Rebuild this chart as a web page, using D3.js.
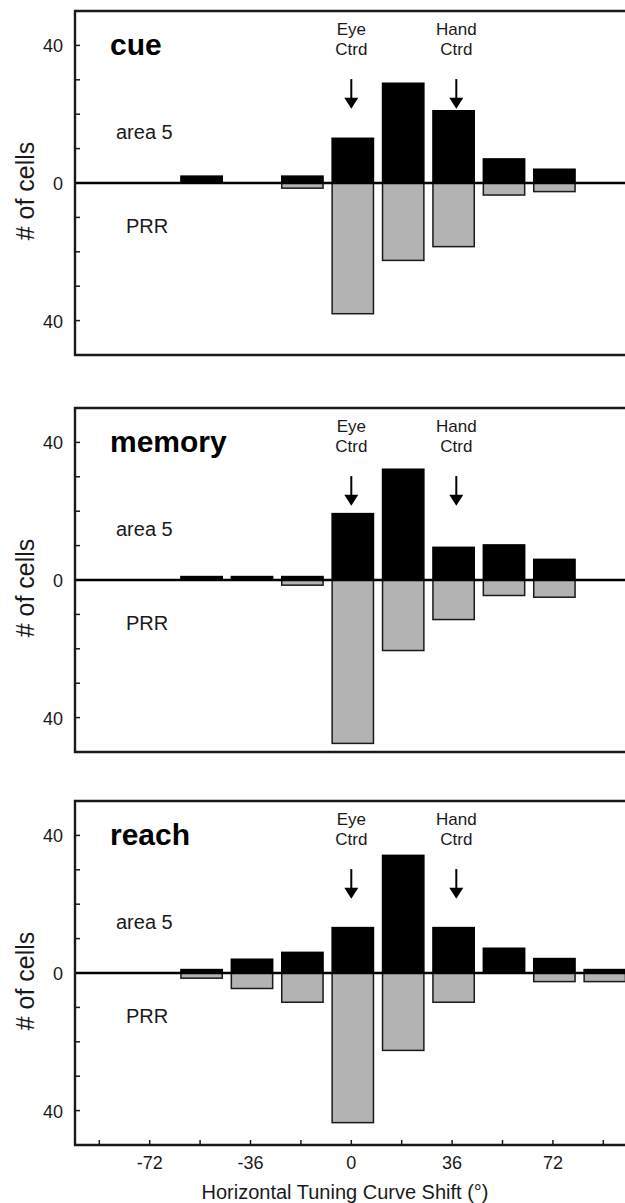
<!DOCTYPE html>
<html><head><meta charset="utf-8">
<script src="https://cdn.jsdelivr.net/npm/d3@7"></script>
<style>
body{margin:0;background:#fff}
svg{display:block;font-family:Arial,"Liberation Sans",sans-serif}
</style>
</head><body><svg id="c" width="625" height="1203"></svg>
<script>
// ---- data ----
const bins = [-54, -36, -18, 0, 18, 36, 54, 72, 90];
const panelNames = ["cue", "memory", "reach"];
const area5Cue    = [2, 0, 2, 13, 29, 21, 7, 4, 0];
const prrCue      = [0, 0, 1.5, 38, 22.5, 18.5, 3.5, 2.5, 0];
const area5Memory = [1, 1, 1, 19.3, 32.2, 9.5, 10.2, 6, 0];
const prrMemory   = [0, 0, 1.5, 47.5, 20.5, 11.5, 4.5, 5, 0];
const area5Reach  = [1, 4, 6, 13.2, 34.2, 13.2, 7.2, 4.2, 1];
const prrReach    = [1.5, 4.5, 8.5, 43.5, 22.5, 8.5, 0, 2.5, 2.5];
const yTickValues = [-40, -30, -20, -10, 10, 20, 30, 40];
const yLabelValues = [40, 0, -40];
const yLabelTexts = ["40", "0", "40"];
const xTickValues = [-90, -72, -54, -36, -18, 0, 18, 36, 54, 72, 90];
const xLabelValues = [-72, -36, 0, 36, 72];
const markerNames = ["Eye", "Hand"];
const markerPositions = [0, 37.5];

const area5Series = [area5Cue, area5Memory, area5Reach];
const prrSeries = [prrCue, prrMemory, prrReach];

// ---- layout ----
const svg = d3.select("#c");
const panelTops = [11, 408, 801];
const panelH = 344;
const frameLeft = 75, frameRight = 632;
const x = d3.scaleLinear().domain([-90, 90]).range([99.3, 603.3]);
const binStep = 18;
const barW = x(binStep * 0.82) - x(0);
const barShift = 1.5;
const ink = "#1a1a1a";

panelNames.forEach((name, p) => {
  const top = panelTops[p];
  const y = d3.scaleLinear().domain([50, -50]).range([top, top + panelH]);
  const g = svg.append("g");
  const a5 = area5Series[p], prr = prrSeries[p];
  const rows = bins.map((b, i) => ({b, a: a5[i], r: prr[i]}));

  // PRR bars (gray, downward)
  g.selectAll("rect.prr").data(rows.filter(d => d.r > 0)).join("rect")
    .attr("class", "prr")
    .attr("x", d => x(d.b) - barW / 2 + barShift)
    .attr("width", barW)
    .attr("y", y(0))
    .attr("height", d => y(-d.r) - y(0))
    .attr("fill", "#b3b3b3").attr("stroke", ink).attr("stroke-width", 1.5);

  // area 5 bars (black, upward)
  g.selectAll("rect.a5").data(rows.filter(d => d.a > 0)).join("rect")
    .attr("class", "a5")
    .attr("x", d => x(d.b) - barW / 2 + barShift)
    .attr("width", barW)
    .attr("y", d => y(d.a))
    .attr("height", d => y(0) - y(d.a))
    .attr("fill", "#000").attr("stroke", "#000").attr("stroke-width", 1.5);

  // zero line
  g.append("line").attr("x1", frameLeft).attr("x2", frameRight)
    .attr("y1", y(0)).attr("y2", y(0))
    .attr("stroke", "#000").attr("stroke-width", 2.5);

  // frame (left, top, bottom; right side lies outside the picture)
  g.append("path")
    .attr("d", `M${frameRight},${top}H${frameLeft}V${top + panelH}H${frameRight}`)
    .attr("fill", "none").attr("stroke", ink).attr("stroke-width", 2.4);

  // y ticks (inward)
  g.selectAll("line.yt").data(yTickValues).join("line")
    .attr("class", "yt")
    .attr("x1", frameLeft).attr("x2", frameLeft + 5)
    .attr("y1", d => y(d)).attr("y2", d => y(d))
    .attr("stroke", ink).attr("stroke-width", 1.5);

  g.selectAll("text.yl").data(yLabelValues).join("text")
    .attr("class", "yl")
    .attr("x", 63).attr("y", d => y(d) + 7)
    .attr("text-anchor", "end")
    .attr("font-size", 18).attr("fill", ink)
    .text((d, i) => yLabelTexts[i]);

  // y axis title
  g.append("text")
    .attr("transform", `translate(34,${y(0) + 8}) rotate(-90)`)
    .attr("text-anchor", "middle")
    .attr("font-size", 25).attr("fill", ink)
    .text("# of cells");

  // panel title
  g.append("text").attr("x", 110).attr("y", y(0) - 128)
    .attr("font-size", 30).attr("font-weight", "bold").attr("fill", "#000")
    .text(name);

  g.append("text").attr("x", 116).attr("y", y(0) - 44)
    .attr("font-size", 20).attr("fill", ink).text("area 5");
  g.append("text").attr("x", 126).attr("y", y(0) + 50)
    .attr("font-size", 20).attr("fill", ink).text("PRR");

  // markers
  markerNames.forEach((m, i) => {
    const mx = x(markerPositions[i]);
    g.append("text").attr("x", mx).attr("y", y(43.1))
      .attr("text-anchor", "middle").attr("font-size", 17).attr("fill", ink).text(m);
    g.append("text").attr("x", mx).attr("y", y(37.1))
      .attr("text-anchor", "middle").attr("font-size", 17).attr("fill", ink).text("Ctrd");
    g.append("line").attr("x1", mx).attr("x2", mx)
      .attr("y1", y(30.2)).attr("y2", y(24.5))
      .attr("stroke", "#000").attr("stroke-width", 2);
    g.append("path")
      .attr("d", `M${mx - 7},${y(24.8)}L${mx + 7},${y(24.8)}L${mx},${y(21.6)}Z`)
      .attr("fill", "#000");
  });

  // x axis only on last panel
  if (p === panelNames.length - 1) {
    const base = top + panelH;
    g.selectAll("line.xt").data(xTickValues).join("line")
      .attr("class", "xt")
      .attr("x1", d => x(d)).attr("x2", d => x(d))
      .attr("y1", base - 1).attr("y2", base - 5)
      .attr("stroke", ink).attr("stroke-width", 1.5);
    g.selectAll("text.xl").data(xLabelValues).join("text")
      .attr("class", "xl")
      .attr("x", d => x(d)).attr("y", base + 24)
      .attr("text-anchor", "middle").attr("font-size", 18).attr("fill", ink)
      .text(d => d);
    g.append("text").attr("x", 345).attr("y", 1199)
      .attr("text-anchor", "middle").attr("font-size", 20).attr("fill", ink)
      .text("Horizontal Tuning Curve Shift (°)");
  }
});
</script>
</body></html>
